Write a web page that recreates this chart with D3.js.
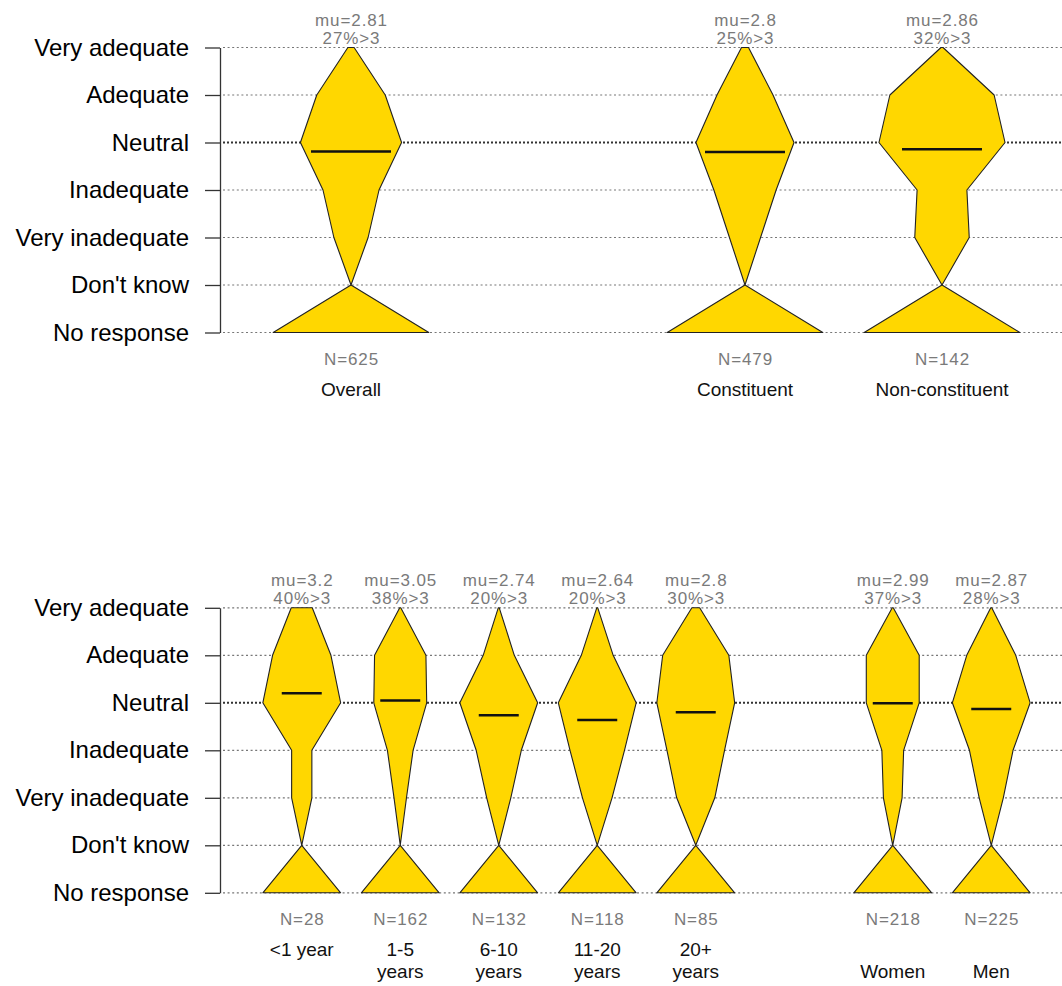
<!DOCTYPE html>
<html lang="en">
<head>
<meta charset="UTF-8">
<title>Ratings by group</title>
<script src="https://cdn.jsdelivr.net/npm/d3@7/dist/d3.min.js"></script>
<style>
    body { margin: 0; background: #fff; }
    svg { display: block; font-family: "Liberation Sans", Arial, sans-serif; }
</style>
</head>
<body>
<svg id="svg" width="1062" height="986"></svg>
<script>
    // answer levels, top to bottom
    var levels = ["Very adequate", "Adequate", "Neutral", "Inadequate", "Very inadequate", "Don't know", "No response"];

    // top panel ("" = empty slot)
    var topGroups = ["Overall", "", "Constituent", "Non-constituent"];
    var topN = [625, null, 479, 142];
    var topMu = [2.81, null, 2.8, 2.86];
    var topAbove = [27, null, 25, 32];
    // shape width at Very adequate .. Very inadequate, % of the full slot width
    var topWidths = [
        [4, 44, 65, 36, 22],
        null,
        [4.5, 36, 63, 40, 20],
        [1.3, 67, 81, 32, 35]
    ];

    // bottom panel
    var bottomGroups = ["<1 year", "1-5\nyears", "6-10\nyears", "11-20\nyears", "20+\nyears", "", "\nWomen", "\nMen"];
    var bottomN = [28, 162, 132, 118, 85, null, 218, 225];
    var bottomMu = [3.2, 3.05, 2.74, 2.64, 2.8, null, 2.99, 2.87];
    var bottomAbove = [40, 38, 20, 20, 30, null, 37, 28];
    var bottomWidths = [
        [27, 75, 100, 26, 26],
        [1.3, 66, 68, 33, 16],
        [1.3, 40, 100, 58, 31],
        [1.3, 41, 100, 70, 38],
        [10, 85, 100, 74, 49],
        null,
        [1.3, 68, 68, 28, 24],
        [1.3, 63, 100, 56, 31]
    ];

    var svg = d3.select("#svg");

    function drawPanel(top, groups, ns, mus, above, widths) {
        var g = svg.append("g");

        var y = d3.scalePoint().domain(levels).range([top, top + 285]);
        // rating 5 = Very adequate, 1 = Very inadequate
        var yMu = d3.scaleLinear().domain([1, 5]).range([y("Very inadequate"), y("Very adequate")]);
        var x = d3.scaleBand().domain(d3.range(groups.length)).range([252.5, 1040.5]);
        var half = x.bandwidth() * 0.79 / 2;
        var w = d3.scaleLinear().domain([0, 100]).range([0, half]);

        // dotted guide lines
        g.append("g").selectAll("line")
            .data(levels)
            .enter()
            .append("line")
            .attr("x1", 223).attr("x2", 1062)
            .attr("y1", function (d) { return y(d); })
            .attr("y2", function (d) { return y(d); })
            .style("stroke", function (d) { return d === "Neutral" ? "#333" : "#777"; })
            .style("stroke-width", function (d) { return d === "Neutral" ? 2 : 1.2; })
            .style("stroke-dasharray", function (d) { return d === "Neutral" ? "2,2" : "2,2.6"; });

        // axis
        var axis = g.append("g")
            .attr("transform", "translate(220,0)")
            .call(d3.axisLeft(y).tickSize(15).tickSizeOuter(0).tickPadding(16));
        axis.select(".domain").style("stroke", "#333").style("stroke-width", 1.3);
        axis.selectAll(".tick line").style("stroke", "#333").style("stroke-width", 1.3);
        axis.selectAll("text")
            .style("font-size", "24px")
            .style("font-family", "'Liberation Sans', Arial, sans-serif")
            .style("fill", "#000");

        var idx = d3.range(groups.length).filter(function (i) { return groups[i] !== ""; });

        // upper shape: rating levels, closing at Don't know
        g.append("g").selectAll("path")
            .data(idx)
            .enter()
            .append("path")
            .attr("d", function (i) {
                var cx = x(i) + x.bandwidth() / 2;
                var pts = [];
                widths[i].forEach(function (v, k) { pts.push([cx - w(v), y(levels[k])]); });
                pts.push([cx, y("Don't know")]);
                widths[i].slice().reverse().forEach(function (v, k) {
                    pts.push([cx + w(v), y(levels[4 - k])]);
                });
                return "M" + pts.join("L") + "Z";
            })
            .style("fill", "#ffd700")
            .style("stroke", "#222")
            .style("stroke-width", 1.1)
            .style("stroke-linejoin", "round");

        // lower triangle
        g.append("g").selectAll("path")
            .data(idx)
            .enter()
            .append("path")
            .attr("d", function (i) {
                var cx = x(i) + x.bandwidth() / 2;
                return "M" + cx + "," + y("Don't know") +
                    "L" + (cx + half) + "," + y("No response") +
                    "L" + (cx - half) + "," + y("No response") + "Z";
            })
            .style("fill", "#ffd700")
            .style("stroke", "#222")
            .style("stroke-width", 1.1)
            .style("stroke-linejoin", "round");

        // mean line
        g.append("g").selectAll("line")
            .data(idx)
            .enter()
            .append("line")
            .attr("x1", function (i) { return x(i) + x.bandwidth() * 0.297; })
            .attr("x2", function (i) { return x(i) + x.bandwidth() * 0.703; })
            .attr("y1", function (i) { return yMu(mus[i]); })
            .attr("y2", function (i) { return yMu(mus[i]); })
            .style("stroke", "#111")
            .style("stroke-width", 2.5);

        // grey labels above and below
        var lab = g.append("g").selectAll("g")
            .data(idx)
            .enter()
            .append("g")
            .attr("transform", function (i) { return "translate(" + (x(i) + x.bandwidth() / 2) + ",0)"; })
            .style("text-anchor", "middle");

        lab.append("text")
            .attr("y", y("Very adequate") - 21.5)
            .attr("dx", 0.5)
            .style("font-size", "17px").style("letter-spacing", "0.9px").style("fill", "#7a7a7a")
            .text(function (i) { return "mu=" + mus[i]; });
        lab.append("text")
            .attr("y", y("Very adequate") - 4)
            .attr("dx", 0.5)
            .style("font-size", "17px").style("letter-spacing", "0.9px").style("fill", "#7a7a7a")
            .text(function (i) { return above[i] + "%>3"; });
        lab.append("text")
            .attr("y", y("No response") + 32.5)
            .attr("dx", 0.5)
            .style("font-size", "17px").style("letter-spacing", "0.9px").style("fill", "#7a7a7a")
            .text(function (i) { return "N=" + ns[i]; });

        // group names, one tspan per line
        lab.append("text")
            .attr("y", y("No response") + 63)
            .style("font-size", "19px").style("fill", "#111")
            .each(function (i) {
                d3.select(this).selectAll("tspan")
                    .data(groups[i].split("\n"))
                    .enter()
                    .append("tspan")
                    .attr("x", 0)
                    .attr("dy", function (d, k) { return k === 0 ? 0 : 22; })
                    .text(function (d) { return d; });
            });
    }

    drawPanel(47.5, topGroups, topN, topMu, topAbove, topWidths);
    drawPanel(607.8, bottomGroups, bottomN, bottomMu, bottomAbove, bottomWidths);
</script>
</body>
</html>
